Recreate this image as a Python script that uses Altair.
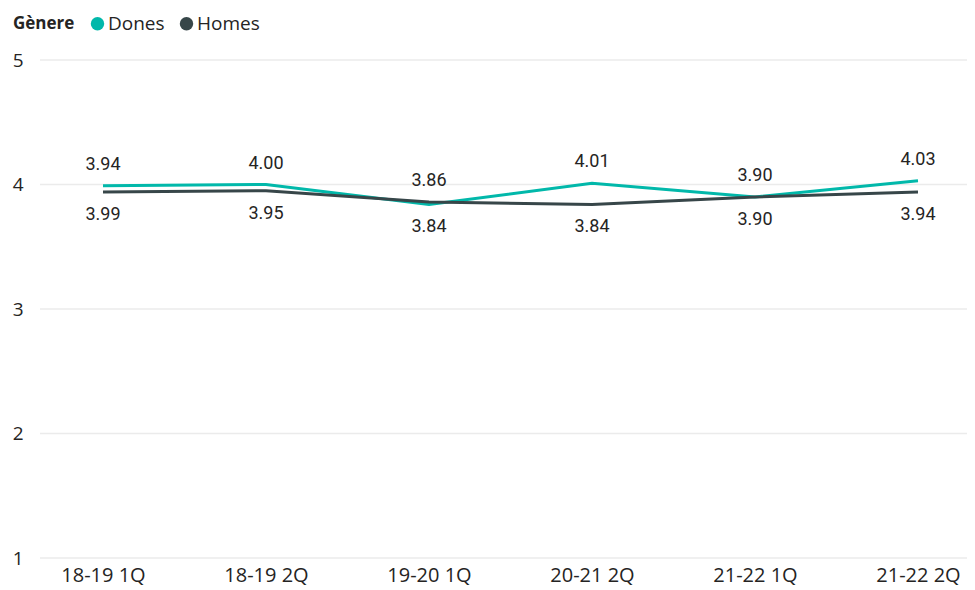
import altair as alt
import pandas as pd

categories = ["18-19 1Q", "18-19 2Q", "19-20 1Q", "20-21 2Q", "21-22 1Q", "21-22 2Q"]
dones = [3.99, 4.00, 3.84, 4.01, 3.90, 4.03]
homes = [3.94, 3.95, 3.86, 3.84, 3.90, 3.94]
top_labels = ["3.94", "4.00", "3.86", "4.01", "3.90", "4.03"]
bottom_labels = ["3.99", "3.95", "3.84", "3.84", "3.90", "3.94"]
y_ticks = [1, 2, 3, 4, 5]
series = ["Dones", "Homes"]
colors = ["#01B8AA", "#374649"]

rows = []
for c, d, h in zip(categories, dones, homes):
    rows.append({"cat": c, "Gènere": "Dones", "v": d})
    rows.append({"cat": c, "Gènere": "Homes", "v": h})
df = pd.DataFrame(rows)

lab = pd.DataFrame({
    "cat": categories,
    "top": [max(a, b) for a, b in zip(dones, homes)],
    "bot": [min(a, b) for a, b in zip(dones, homes)],
    "ttext": top_labels,
    "btext": bottom_labels,
})
grid_df = pd.DataFrame({"g": y_ticks})

font = "Open Sans"
xs = alt.Scale(domain=categories, range=[63, 878], padding=0)
ys = alt.Scale(domain=[1, 5])

grid = alt.Chart(grid_df).mark_rule(color="#EBEBEB", strokeWidth=1.5).encode(
    x=alt.value(0), x2=alt.value(927),
    y=alt.Y("g:Q", scale=ys, title=None,
            axis=alt.Axis(values=y_ticks, format="d", ticks=False, domain=False, grid=False,
                          labelFontSize=19, labelColor="#252423", labelFont=font,
                          labelPadding=17)),
)

lines = alt.Chart(df).mark_line(
    strokeWidth=3, point=alt.OverlayMarkDef(filled=True, opacity=0, size=10)
).encode(
    x=alt.X("cat:N", scale=xs, sort=categories, title=None,
            axis=alt.Axis(labelAngle=0, ticks=False, domain=False, grid=False,
                          labelFontSize=20, labelColor="#252423", labelFont=font,
                          labelPadding=7)),
    y=alt.Y("v:Q", scale=ys),
    color=alt.Color("Gènere:N", scale=alt.Scale(domain=series, range=colors),
                    legend=alt.Legend(orient="none", legendX=-27, legendY=-46,
                                      direction="horizontal", titleOrient="left",
                                      titleBaseline="middle",
                                      symbolType="circle", symbolSize=180,
                                      symbolStrokeWidth=0, symbolOpacity=1,
                                      titleFontSize=17, titleFont=font,
                                      titleFontWeight="bold", titleColor="#252423",
                                      labelFontSize=19, labelFont=font,
                                      labelColor="#252423", columnPadding=12,
                                      labelOffset=1, titlePadding=13)),
)

top_t = alt.Chart(lab).mark_text(dy=-21, fontSize=18, font="Roboto", color="#252423").encode(
    x=alt.X("cat:N", scale=xs, sort=categories),
    y=alt.Y("top:Q", scale=ys),
    text="ttext:N",
)
bot_t = alt.Chart(lab).mark_text(dy=23, fontSize=18, font="Roboto", color="#252423").encode(
    x=alt.X("cat:N", scale=xs, sort=categories),
    y=alt.Y("bot:Q", scale=ys),
    text="btext:N",
)

chart = alt.layer(grid, lines, top_t, bot_t).properties(
    width=927, height=498,
    background="white",
    autosize=alt.AutoSizeParams(type="none"),
    padding={"left": 32, "top": 52, "right": 0, "bottom": 31},
).configure_view(strokeWidth=0, stroke="transparent").configure_axis(
    domain=False, ticks=False, grid=False
)

chart.save("out.html", embed_options={"renderer": "svg", "actions": False})
